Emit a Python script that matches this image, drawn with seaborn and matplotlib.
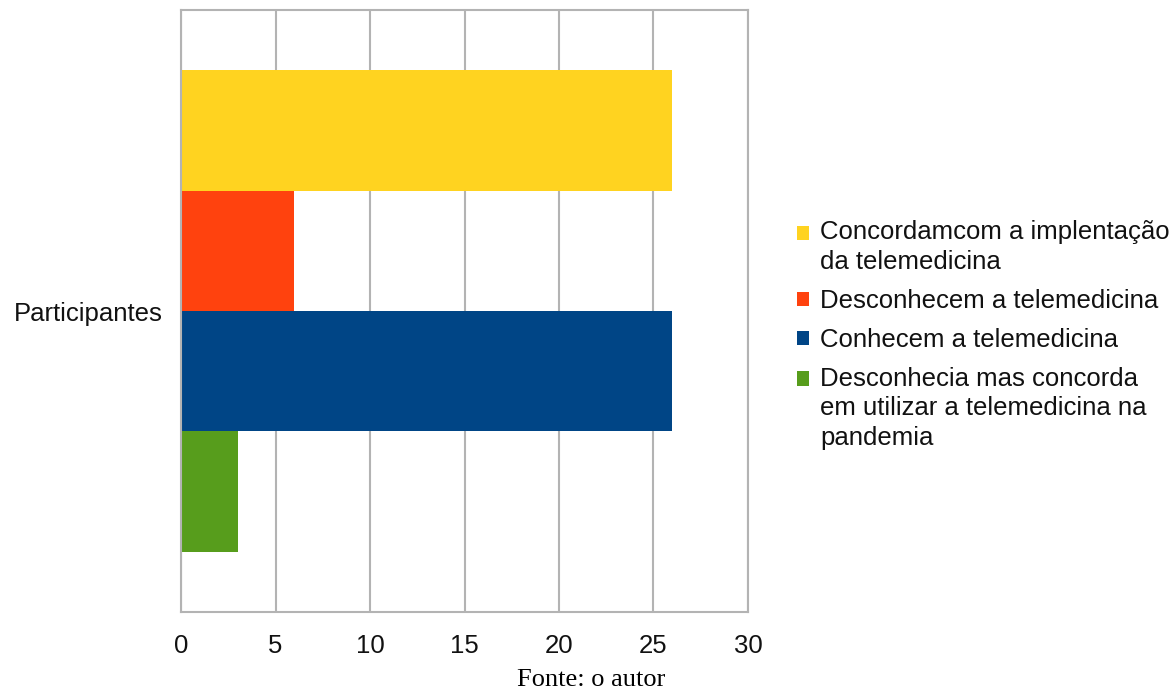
import pandas as pd
import seaborn as sns
import matplotlib.pyplot as plt
from matplotlib.patches import Rectangle
from matplotlib.legend_handler import HandlerPatch

grupo = 'Participantes'
series = [
    'Concordamcom a implentação\nda telemedicina',
    'Desconhecem a telemedicina',
    'Conhecem a telemedicina',
    'Desconhecia mas concorda\nem utilizar a telemedicina na\npandemia',
]
valores = [26, 6, 26, 3]
cores = ['#FFD320', '#FF420E', '#004586', '#579D1C']
xticks = [0, 5, 10, 15, 20, 25, 30]

LINHA_PT = 21.6  # distance between lines of legend text, in points


def quadrado(nlinhas):
    # square handle aligned with the first line of a multi-line label
    def f(legend, orig_handle, xdescent, ydescent, width, height, fontsize):
        dy = (nlinhas - 1) / 2 * LINHA_PT
        return Rectangle((-xdescent, -ydescent + dy), width, height,
                         facecolor=orig_handle.get_facecolor(), edgecolor='none')
    return f


if __name__ == '__main__':
    sns.set_style('white')
    plt.rcParams['font.family'] = ['Liberation Sans', 'DejaVu Sans']
    plt.rcParams['font.size'] = 18.5

    df = pd.DataFrame({'grupo': [grupo] * len(series), 'serie': series, 'valor': valores})

    fig = plt.figure(figsize=(11.76, 6.9), dpi=100)
    ax = fig.add_axes([0.154, 0.113, 0.482, 0.8725])
    sns.barplot(data=df, x='valor', y='grupo', hue='serie', hue_order=series,
                palette=cores, orient='h', saturation=1, width=0.8, gap=0,
                edgecolor='none', linewidth=0, ax=ax)

    grid_c = '#b3b3b3'
    ax.set_xlim(0, 30)
    ax.set_ylim(0.5, -0.5)
    ax.set_xticks(xticks)
    ax.set_xticklabels([str(t) for t in xticks])
    ax.grid(axis='x', color=grid_c, linewidth=1.5)
    ax.set_axisbelow(True)
    for s in ax.spines.values():
        s.set_color(grid_c)
        s.set_linewidth(1.5)
    ax.tick_params(axis='x', length=7.5, width=1.5, color=grid_c, pad=8.5, labelcolor='#111111')
    ax.tick_params(axis='y', which='major', length=0, pad=13.5, labelcolor='#111111')
    ax.set_yticks([-0.5, 0.5], minor=True)
    ax.tick_params(axis='y', which='minor', length=8, width=1.5, color=grid_c)
    ax.set_xlabel('')
    ax.set_ylabel('')

    handles, labels = ax.get_legend_handles_labels()
    hmap = {h: HandlerPatch(patch_func=quadrado(l.count('\n') + 1))
            for h, l in zip(handles, labels)}
    leg = ax.legend(handles, labels, handler_map=hmap,
                    loc='center left', bbox_to_anchor=(1.068, 0.46), frameon=False,
                    handlelength=0.47, handleheight=0.47, handletextpad=0.43,
                    labelspacing=0.58, borderaxespad=0)
    for t in leg.get_texts():
        t.set_linespacing(1.29)
        t.set_color('#111111')

    fig.text(0.503, 0.006, 'Fonte: o autor', family='Liberation Serif',
             fontsize=19, ha='center', va='baseline', color='black')

    plt.savefig('out.png', dpi=100)
